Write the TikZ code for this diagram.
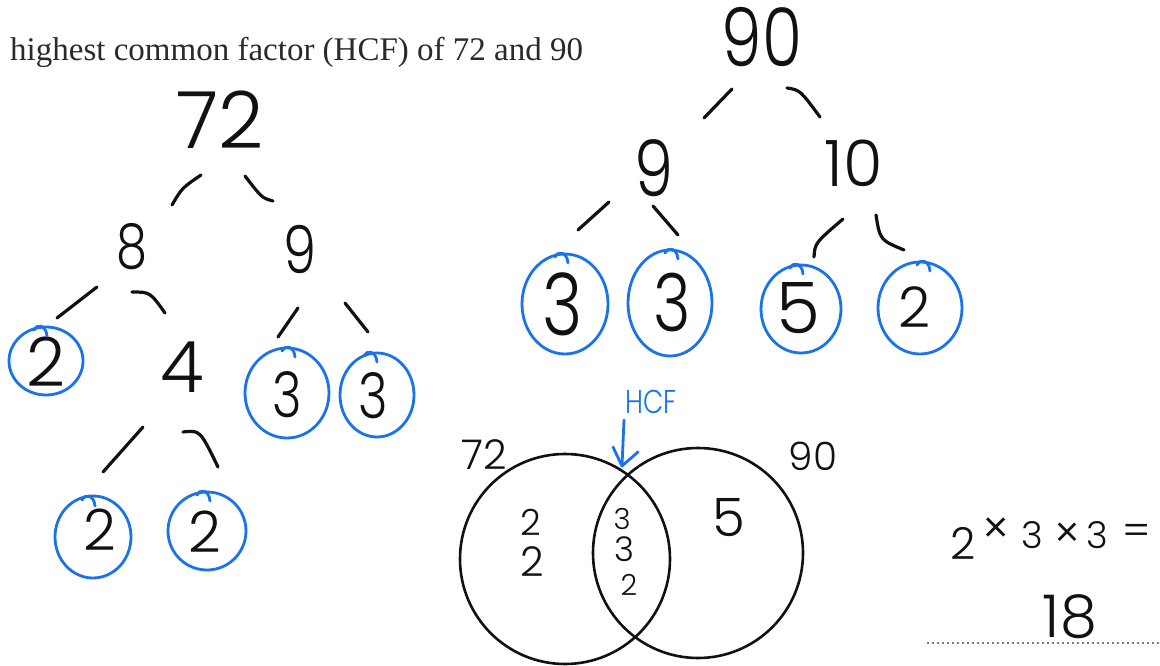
\documentclass[tikz,border=0pt]{standalone}
\usepackage{fontspec}
\setmainfont{Liberation Serif}
\newfontfamily\hand{Poppins Light}
\newfontfamily\handn{Poppins Light}[FakeStretch=0.8]
\newcommand\hsz[1]{\fontsize{#1}{#1}\selectfont}
\definecolor{penblue}{HTML}{1A73E8}
\definecolor{ink}{HTML}{111111}
\definecolor{printgray}{HTML}{2A2A2A}
\begin{document}
\begin{tikzpicture}[x=1pt,y=-1pt,
  digit/.style={inner sep=0pt, text=ink},
  stroke/.style={draw=ink, line width=3.2pt, line cap=round},
  bluering/.style={draw=penblue, line width=2.8pt, line cap=round},
  venn/.style={draw=ink, line width=2.6pt},
  circlehook/.pic={\draw[bluering] (5,9) .. controls (4,-3) and (-6,-3) .. (-8,3);}
]
\useasboundingbox[fill=white] (0,0) rectangle (1160,666);

% title
\node[anchor=base west, text=printgray, font=\hsz{33}, inner sep=0pt] (title) at (10,61) {highest common factor (HCF) of 72 and 90};

% ---------- tree of 72 ----------
\node[digit, font=\hand\hsz{79}] (t72) at (220,120) {72};
\node[digit, font=\handn\hsz{62}] (t8) at (132,247) {8};
\node[digit, font=\handn\hsz{66}] (t9) at (300,250) {9};
\node[digit, font=\hand\hsz{68}] (t2a) at (46,362) {2};
\node[digit, font=\hand\hsz{71}] (t4) at (182,367) {4};
\node[digit, font=\handn\hsz{63}] (t3a) at (287,395) {3};
\node[digit, font=\handn\hsz{63}] (t3b) at (373,396) {3};
\node[digit, font=\hand\hsz{57}] (t2b) at (100,530) {2};
\node[digit, font=\hand\hsz{57}] (t2c) at (205,532) {2};

\coordinate (a1) at (172,205); \coordinate (a2) at (201,175);
\coordinate (b1) at (245,176); \coordinate (b2) at (273,201);
\coordinate (c1) at (57,318);  \coordinate (c2) at (97,287);
\coordinate (d1) at (132,292); \coordinate (d2) at (165,313);
\coordinate (e1) at (278,337); \coordinate (e2) at (298,308);
\coordinate (f1) at (345,303); \coordinate (f2) at (368,332);
\coordinate (g1) at (103,472); \coordinate (g2) at (143,427);
\coordinate (h1) at (183,432); \coordinate (h2) at (218,467);
\draw[stroke] (a1) .. controls (182,188) .. (a2);
\draw[stroke] (b1) .. controls (262,198) .. (b2);
\draw[stroke] (c1) -- (c2);
\draw[stroke] (d1) .. controls (150,292) .. (d2);
\draw[stroke] (e1) -- (e2);
\draw[stroke] (f1) -- (f2);
\draw[stroke] (g1) -- (g2);
\draw[stroke] (h1) .. controls (200,430) .. (h2);

\draw[bluering] (46,361) ellipse [x radius=37, y radius=34];
\pic at (42,327) {circlehook};
\draw[bluering] (287,393) ellipse [x radius=42, y radius=45];
\pic at (290,348) {circlehook};
\draw[bluering] (377,395) ellipse [x radius=37, y radius=42];
\pic at (372,353) {circlehook};
\draw[bluering] (93,537) ellipse [x radius=38, y radius=41];
\pic at (90,497) {circlehook};
\draw[bluering] (207,531) ellipse [x radius=39, y radius=39];
\pic at (205,492) {circlehook};

% ---------- tree of 90 ----------
\node[digit, font=\handn\hsz{81}] (s90) at (762,37) {90};
\node[digit, font=\handn\hsz{78}] (s9) at (654,168) {9};
\node[digit, font=\hand\hsz{64}] (s10) at (854,163) {10};
\node[digit, font=\handn\hsz{86}] (s3a) at (563,304) {3};
\node[digit, font=\handn\hsz{80}] (s3b) at (672,302) {3};
\node[digit, font=\hand\hsz{71}] (s5) at (798,308) {5};
\node[digit, font=\hand\hsz{56}] (s2) at (915,307) {2};

\coordinate (p1) at (704,118); \coordinate (p2) at (732,89);
\coordinate (q1) at (787,88);  \coordinate (q2) at (820,117);
\coordinate (r1) at (578,230); \coordinate (r2) at (609,202);
\coordinate (u1) at (653,206); \coordinate (u2) at (678,235);
\coordinate (v1) at (814,257); \coordinate (v2) at (843,219);
\coordinate (w1) at (876,215); \coordinate (w2) at (904,250);
\draw[stroke] (p1) -- (p2);
\draw[stroke] (q1) .. controls (800,90) .. (q2);
\draw[stroke] (r1) -- (r2);
\draw[stroke] (u1) -- (u2);
\draw[stroke] (v1) .. controls (815,243) .. (v2);
\draw[stroke] (w1) .. controls (880,240) .. (w2);

\draw[bluering] (565,304) ellipse [x radius=43, y radius=50];
\pic at (563,254) {circlehook};
\draw[bluering] (670,303) ellipse [x radius=42, y radius=53];
\pic at (673,250) {circlehook};
\draw[bluering] (801,309) ellipse [x radius=40, y radius=44];
\pic at (798,265) {circlehook};
\draw[bluering] (920,308) ellipse [x radius=42, y radius=46];
\pic at (925,262) {circlehook};

% ---------- Venn diagram ----------
\draw[venn] (565,559) circle [radius=105];
\draw[venn] (698,553) circle [radius=105];
\node[digit, font=\hand\hsz{41}] (v72) at (484,455) {72};
\node[digit, font=\hand\hsz{39}] (v90) at (813,456) {90};
\node[digit, text=penblue, font=\handn\hsz{33}] (hcf) at (651,402) {HCF};
\coordinate (arrtip) at (622,466);
\draw[bluering] (hcf.south -| arrtip) ++(2,6) coordinate (arrtail) -- (arrtip);
\draw[bluering, line join=round] (613,447) -- (arrtip) -- (638,452);
\node[digit, font=\hand\hsz{36}] (l2a) at (531,522) {2};
\node[digit, font=\hand\hsz{41}] (l2b) at (532,562) {2};
\node[digit, font=\hand\hsz{29}] (m3a) at (622,519) {3};
\node[digit, font=\hand\hsz{34}] (m3b) at (624,549) {3};
\node[digit, font=\hand\hsz{29}] (m2) at (629,585) {2};
\node[digit, font=\hand\hsz{53}] (r5) at (729,518) {5};

% ---------- product ----------
\node[digit, font=\hand\hsz{44}] (e2) at (963,543) {2};
\node[digit, font=\hand\hsz{46}] (ex1) at (996,531) {×};
\node[digit, font=\hand\hsz{37}] (e3a) at (1032,535) {3};
\node[digit, font=\hand\hsz{44}] (ex2) at (1067,536) {×};
\node[digit, font=\hand\hsz{37}] (e3b) at (1097,535) {3};
\node[digit, font=\hand\hsz{42}] (eq) at (1137,535) {=};
\node[digit, font=\hand\hsz{59}] (res) at (1070,617) {18};
\coordinate (dl) at (927,643); \coordinate (dr) at (1160,643);
\draw[draw=gray, line width=1.5pt, dash pattern=on 1.5pt off 3.5pt] (dl) -- (dr);
\end{tikzpicture}
\end{document}
